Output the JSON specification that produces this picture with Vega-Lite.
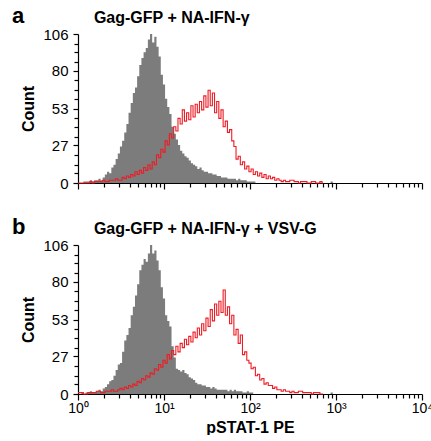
{
  "$schema": "https://vega.github.io/schema/vega-lite/v6.json",
  "padding": {"left": 12, "top": 5, "right": 0, "bottom": 0},
  "spacing": 25,
  "config": {
    "view": {"stroke": null},
    "font": "Liberation Sans",
    "axis": {"grid": false, "labelOverlap": false, "tickCount": 100, "domainColor": "#000000", "tickColor": "#000000", "labelColor": "#000000", "titleColor": "#000000", "domainWidth": 1.2, "tickWidth": 1.2}
  },
  "datasets": {
    "h": [
      {"p":"a","x":1,"g":0,"r":0},{"p":"a","x":1.059,"g":0,"r":0},{"p":"a","x":1.122,"g":0,"r":0},{"p":"a","x":1.189,"g":1,"r":0},
      {"p":"a","x":1.259,"g":1,"r":0},{"p":"a","x":1.334,"g":1,"r":0},{"p":"a","x":1.413,"g":2,"r":1},{"p":"a","x":1.496,"g":1,"r":0},
      {"p":"a","x":1.585,"g":2,"r":1},{"p":"a","x":1.679,"g":2,"r":1},{"p":"a","x":1.778,"g":3,"r":1},{"p":"a","x":1.884,"g":2,"r":1},
      {"p":"a","x":1.995,"g":4,"r":2},{"p":"a","x":2.113,"g":6,"r":1},{"p":"a","x":2.239,"g":8,"r":1},{"p":"a","x":2.371,"g":7,"r":2},
      {"p":"a","x":2.512,"g":11,"r":2},{"p":"a","x":2.661,"g":13,"r":2},{"p":"a","x":2.818,"g":17,"r":3},{"p":"a","x":2.985,"g":21,"r":2},
      {"p":"a","x":3.162,"g":26,"r":2},{"p":"a","x":3.35,"g":30,"r":4},{"p":"a","x":3.548,"g":36,"r":3},{"p":"a","x":3.758,"g":42,"r":5},
      {"p":"a","x":3.981,"g":50,"r":4},{"p":"a","x":4.217,"g":57,"r":6},{"p":"a","x":4.467,"g":64,"r":5},{"p":"a","x":4.732,"g":68,"r":8},
      {"p":"a","x":5.012,"g":76,"r":6},{"p":"a","x":5.309,"g":84,"r":9},{"p":"a","x":5.623,"g":89,"r":7},{"p":"a","x":5.957,"g":93,"r":11},
      {"p":"a","x":6.31,"g":96,"r":9},{"p":"a","x":6.683,"g":102,"r":13},{"p":"a","x":7.079,"g":106,"r":10},{"p":"a","x":7.499,"g":100,"r":15},
      {"p":"a","x":7.943,"g":104,"r":13},{"p":"a","x":8.414,"g":97,"r":20},{"p":"a","x":8.913,"g":90,"r":18},{"p":"a","x":9.441,"g":77,"r":24},
      {"p":"a","x":10,"g":70,"r":22},{"p":"a","x":10.59,"g":60,"r":30},{"p":"a","x":11.22,"g":54,"r":27},{"p":"a","x":11.89,"g":49,"r":35},
      {"p":"a","x":12.59,"g":40,"r":32},{"p":"a","x":13.34,"g":35,"r":40},{"p":"a","x":14.13,"g":31,"r":37},{"p":"a","x":14.96,"g":27,"r":46},
      {"p":"a","x":15.85,"g":23,"r":42},{"p":"a","x":16.79,"g":21,"r":52},{"p":"a","x":17.78,"g":19,"r":44},{"p":"a","x":18.84,"g":18,"r":50},
      {"p":"a","x":19.95,"g":16,"r":45},{"p":"a","x":21.13,"g":14,"r":55},{"p":"a","x":22.39,"g":13,"r":47},{"p":"a","x":23.71,"g":12,"r":56},
      {"p":"a","x":25.12,"g":10,"r":50},{"p":"a","x":26.61,"g":11,"r":58},{"p":"a","x":28.18,"g":9,"r":52},{"p":"a","x":29.85,"g":8,"r":62},
      {"p":"a","x":31.62,"g":8,"r":54},{"p":"a","x":33.5,"g":7,"r":66},{"p":"a","x":35.48,"g":7,"r":55},{"p":"a","x":37.58,"g":6,"r":64},
      {"p":"a","x":39.81,"g":6,"r":50},{"p":"a","x":42.17,"g":5,"r":58},{"p":"a","x":44.67,"g":5,"r":46},{"p":"a","x":47.32,"g":4,"r":52},
      {"p":"a","x":50.12,"g":4,"r":40},{"p":"a","x":53.09,"g":4,"r":44},{"p":"a","x":56.23,"g":3,"r":36},{"p":"a","x":59.57,"g":3,"r":38},
      {"p":"a","x":63.1,"g":3,"r":30},{"p":"a","x":66.83,"g":3,"r":26},{"p":"a","x":70.79,"g":2,"r":17},{"p":"a","x":74.99,"g":3,"r":19},
      {"p":"a","x":79.43,"g":2,"r":13},{"p":"a","x":84.14,"g":2,"r":15},{"p":"a","x":89.13,"g":2,"r":10},{"p":"a","x":94.41,"g":1,"r":12},
      {"p":"a","x":100,"g":1,"r":8},{"p":"a","x":105.9,"g":1,"r":10},{"p":"a","x":112.2,"g":1,"r":6},{"p":"a","x":118.9,"g":0,"r":8},
      {"p":"a","x":125.9,"g":0,"r":5},{"p":"a","x":133.4,"g":0,"r":7},{"p":"a","x":141.3,"g":0,"r":4},{"p":"a","x":149.6,"g":0,"r":6},
      {"p":"a","x":158.5,"g":0,"r":3},{"p":"a","x":167.9,"g":0,"r":5},{"p":"a","x":177.8,"g":0,"r":3},{"p":"a","x":188.4,"g":0,"r":4},
      {"p":"a","x":199.5,"g":0,"r":2},{"p":"a","x":211.3,"g":0,"r":3},{"p":"a","x":223.9,"g":0,"r":2},{"p":"a","x":237.1,"g":0,"r":1},
      {"p":"a","x":251.2,"g":0,"r":2},{"p":"a","x":266.1,"g":0,"r":1},{"p":"a","x":281.8,"g":0,"r":1},{"p":"a","x":298.5,"g":0,"r":2},
      {"p":"a","x":316.2,"g":0,"r":2},{"p":"a","x":335,"g":0,"r":1},{"p":"a","x":354.8,"g":0,"r":1},{"p":"a","x":375.8,"g":0,"r":0},
      {"p":"a","x":398.1,"g":0,"r":1},{"p":"a","x":421.7,"g":0,"r":1},{"p":"a","x":446.7,"g":0,"r":1},{"p":"a","x":473.2,"g":0,"r":0},
      {"p":"a","x":501.2,"g":0,"r":0},{"p":"a","x":530.9,"g":0,"r":1},{"p":"a","x":562.3,"g":0,"r":1},{"p":"a","x":595.7,"g":0,"r":0},
      {"p":"a","x":631,"g":0,"r":0},{"p":"a","x":668.3,"g":0,"r":1},{"p":"a","x":707.9,"g":0,"r":0},
      {"p":"a","x":841.4,"g":0},{"p":"a","x":891.3,"g":1},{"p":"a","x":944.1,"g":0},

      {"p":"b","x":1,"g":0,"r":1},{"p":"b","x":1.059,"g":0,"r":1},{"p":"b","x":1.122,"g":1,"r":1},{"p":"b","x":1.189,"g":0,"r":0},
      {"p":"b","x":1.259,"g":1,"r":0},{"p":"b","x":1.334,"g":1,"r":1},{"p":"b","x":1.413,"g":2,"r":1},{"p":"b","x":1.496,"g":1,"r":1},
      {"p":"b","x":1.585,"g":1,"r":1},{"p":"b","x":1.679,"g":2,"r":2},{"p":"b","x":1.778,"g":3,"r":2},{"p":"b","x":1.884,"g":2,"r":1},
      {"p":"b","x":1.995,"g":4,"r":1},{"p":"b","x":2.113,"g":5,"r":2},{"p":"b","x":2.239,"g":7,"r":2},{"p":"b","x":2.371,"g":9,"r":2},
      {"p":"b","x":2.512,"g":10,"r":3},{"p":"b","x":2.661,"g":13,"r":2},{"p":"b","x":2.818,"g":17,"r":2},{"p":"b","x":2.985,"g":21,"r":3},
      {"p":"b","x":3.162,"g":22,"r":4},{"p":"b","x":3.35,"g":30,"r":3},{"p":"b","x":3.548,"g":38,"r":5},{"p":"b","x":3.758,"g":42,"r":4},
      {"p":"b","x":3.981,"g":47,"r":6},{"p":"b","x":4.217,"g":56,"r":5},{"p":"b","x":4.467,"g":62,"r":7},{"p":"b","x":4.732,"g":70,"r":6},
      {"p":"b","x":5.012,"g":78,"r":9},{"p":"b","x":5.309,"g":88,"r":8},{"p":"b","x":5.623,"g":92,"r":11},{"p":"b","x":5.957,"g":96,"r":10},
      {"p":"b","x":6.31,"g":94,"r":13},{"p":"b","x":6.683,"g":100,"r":12},{"p":"b","x":7.079,"g":106,"r":15},{"p":"b","x":7.499,"g":100,"r":14},
      {"p":"b","x":7.943,"g":102,"r":18},{"p":"b","x":8.414,"g":95,"r":17},{"p":"b","x":8.913,"g":88,"r":21},{"p":"b","x":9.441,"g":76,"r":19},
      {"p":"b","x":10,"g":68,"r":24},{"p":"b","x":10.59,"g":56,"r":22},{"p":"b","x":11.22,"g":52,"r":28},{"p":"b","x":11.89,"g":48,"r":25},
      {"p":"b","x":12.59,"g":34,"r":31},{"p":"b","x":13.34,"g":26,"r":28},{"p":"b","x":14.13,"g":18,"r":34},{"p":"b","x":14.96,"g":17,"r":30},
      {"p":"b","x":15.85,"g":16,"r":36},{"p":"b","x":16.79,"g":17,"r":33},{"p":"b","x":17.78,"g":15,"r":39},{"p":"b","x":18.84,"g":14,"r":35},
      {"p":"b","x":19.95,"g":12,"r":41},{"p":"b","x":21.13,"g":11,"r":37},{"p":"b","x":22.39,"g":10,"r":44},{"p":"b","x":23.71,"g":8,"r":40},
      {"p":"b","x":25.12,"g":7,"r":47},{"p":"b","x":26.61,"g":7,"r":42},{"p":"b","x":28.18,"g":6,"r":50},{"p":"b","x":29.85,"g":6,"r":45},
      {"p":"b","x":31.62,"g":5,"r":54},{"p":"b","x":33.5,"g":5,"r":48},{"p":"b","x":35.48,"g":4,"r":60},{"p":"b","x":37.58,"g":5,"r":52},
      {"p":"b","x":39.81,"g":4,"r":64},{"p":"b","x":42.17,"g":3,"r":56},{"p":"b","x":44.67,"g":3,"r":66},{"p":"b","x":47.32,"g":3,"r":58},
      {"p":"b","x":50.12,"g":3,"r":74},{"p":"b","x":53.09,"g":3,"r":56},{"p":"b","x":56.23,"g":2,"r":62},{"p":"b","x":59.57,"g":3,"r":50},
      {"p":"b","x":63.1,"g":2,"r":56},{"p":"b","x":66.83,"g":3,"r":42},{"p":"b","x":70.79,"g":2,"r":46},{"p":"b","x":74.99,"g":2,"r":36},
      {"p":"b","x":79.43,"g":2,"r":42},{"p":"b","x":84.14,"g":1,"r":28},{"p":"b","x":89.13,"g":1,"r":30},{"p":"b","x":94.41,"g":2,"r":24},
      {"p":"b","x":100,"g":1,"r":22},{"p":"b","x":105.9,"g":1,"r":18},{"p":"b","x":112.2,"g":0,"r":19},{"p":"b","x":118.9,"g":0,"r":13},
      {"p":"b","x":125.9,"g":0,"r":14},{"p":"b","x":133.4,"g":0,"r":10},{"p":"b","x":141.3,"g":0,"r":11},{"p":"b","x":149.6,"g":0,"r":7},
      {"p":"b","x":158.5,"g":0,"r":8},{"p":"b","x":167.9,"g":0,"r":6},{"p":"b","x":177.8,"g":0,"r":6},{"p":"b","x":188.4,"g":0,"r":4},
      {"p":"b","x":199.5,"g":0,"r":5},{"p":"b","x":211.3,"g":0,"r":3},{"p":"b","x":223.9,"g":0,"r":3},{"p":"b","x":237.1,"g":0,"r":2},
      {"p":"b","x":251.2,"g":0,"r":3},{"p":"b","x":266.1,"g":0,"r":2},{"p":"b","x":281.8,"g":0,"r":2},{"p":"b","x":298.5,"g":0,"r":1},
      {"p":"b","x":316.2,"g":0,"r":2},{"p":"b","x":335,"g":0,"r":1},{"p":"b","x":354.8,"g":0,"r":1},{"p":"b","x":375.8,"g":0,"r":2},
      {"p":"b","x":398.1,"g":0,"r":2},{"p":"b","x":421.7,"g":0,"r":1},{"p":"b","x":446.7,"g":0,"r":1},{"p":"b","x":473.2,"g":0,"r":1},
      {"p":"b","x":501.2,"g":0,"r":1},{"p":"b","x":530.9,"g":0,"r":0},{"p":"b","x":562.3,"g":0,"r":1},{"p":"b","x":595.7,"g":0,"r":1},
      {"p":"b","x":631,"g":0,"r":1},{"p":"b","x":668.3,"g":0,"r":0},{"p":"b","x":707.9,"g":0,"r":0},
      {"p":"b","x":841.4,"g":0},{"p":"b","x":891.3,"g":1},{"p":"b","x":944.1,"g":0}
    ],
    "labels": [
      {"p":"a","t":"a","x":0.171,"s":22},
      {"p":"a","t":"Gag-GFP + NA-IFN-γ","x":1.53,"s":16},
      {"p":"b","t":"b","x":0.171,"s":22},
      {"p":"b","t":"Gag-GFP + NA-IFN-γ + VSV-G","x":1.53,"s":16}
    ]
  },
  "vconcat": [
    {
      "width": 344,
      "height": 149,
      "layer": [
        {
          "data": {"name": "h"},
          "transform": [{"filter": "datum.p == 'a'"}],
          "mark": {"type": "area", "interpolate": "step", "color": "#7c7c7c"},
          "encoding": {
            "x": {"field": "x", "type": "quantitative", "scale": {"type": "log", "domain": [1, 10000], "nice": false},
              "axis": {"title": null, "labels": false, "labelOverlap": false, "tickCount": 100, "values": [1,2,3,4,5,6,7,8,9,10,20,30,40,50,60,70,80,90,100,200,300,400,500,600,700,800,900,1000,2000,3000,4000,5000,6000,7000,8000,9000,10000],
                "tickSize": {"condition": {"test": "indexof([1,10,100,1000,10000], datum.value) >= 0", "value": 6}, "value": 4}}},
            "y": {"field": "g", "type": "quantitative", "scale": {"domain": [0, 106], "nice": false},
              "axis": {"title": "Count", "titleFontSize": 16, "titleFontWeight": "bold", "titlePadding": 6, "labelPadding": 5, "labelFontSize": 15, "tickCount": 100,
                "values": [0,7,13,20,27,33,40,46,53,60,66,73,80,86,93,99,106],
                "labelExpr": "indexof([0,27,53,80,106], datum.value) >= 0 ? datum.label : ''",
                "labelOverlap": false,
                "tickSize": {"condition": {"test": "indexof([0,27,53,80,106], datum.value) >= 0", "value": 5}, "value": 4}}}
          }
        },
        {
          "data": {"name": "h"},
          "transform": [{"filter": "datum.p == 'a'"}],
          "mark": {"type": "line", "interpolate": "step", "color": "#ee1c24", "strokeWidth": 1.1},
          "encoding": {
            "x": {"field": "x", "type": "quantitative"},
            "y": {"field": "r", "type": "quantitative"}
          }
        },
        {
          "data": {"name": "labels"},
          "transform": [{"filter": "datum.p == 'a'"}],
          "mark": {"type": "text", "fontWeight": "bold", "align": "left", "baseline": "alphabetic", "color": "#000000"},
          "encoding": {
            "text": {"field": "t"},
            "size": {"field": "s", "type": "quantitative", "scale": null},
            "x": {"field": "x", "type": "quantitative"},
            "y": {"datum": 113.5}
          }
        }
      ]
    },
    {
      "width": 344,
      "height": 149,
      "layer": [
        {
          "data": {"name": "h"},
          "transform": [{"filter": "datum.p == 'b'"}],
          "mark": {"type": "area", "interpolate": "step", "color": "#7c7c7c"},
          "encoding": {
            "x": {"field": "x", "type": "quantitative", "scale": {"type": "log", "domain": [1, 10000], "nice": false},
              "axis": {"title": "pSTAT-1 PE", "titleFontSize": 16, "titleFontWeight": "bold", "titlePadding": 4, "labelFontSize": 14, "labelPadding": 1,
                "labelFlush": false, "labelOverlap": false, "tickCount": 100,
                "values": [1,2,3,4,5,6,7,8,9,10,20,30,40,50,60,70,80,90,100,200,300,400,500,600,700,800,900,1000,2000,3000,4000,5000,6000,7000,8000,9000,10000],
                "labelExpr": "datum.value == 1 ? '10⁰' : datum.value == 10 ? '10¹' : datum.value == 100 ? '10²' : datum.value == 1000 ? '10³' : datum.value == 10000 ? '10⁴' : ''",
                "tickSize": {"condition": {"test": "indexof([1,10,100,1000,10000], datum.value) >= 0", "value": 6}, "value": 4}}},
            "y": {"field": "g", "type": "quantitative", "scale": {"domain": [0, 106], "nice": false},
              "axis": {"title": "Count", "titleFontSize": 16, "titleFontWeight": "bold", "titlePadding": 6, "labelPadding": 5, "labelFontSize": 15, "tickCount": 100,
                "values": [0,7,13,20,27,33,40,46,53,60,66,73,80,86,93,99,106],
                "labelExpr": "indexof([0,27,53,80,106], datum.value) >= 0 ? datum.label : ''",
                "labelOverlap": false,
                "tickSize": {"condition": {"test": "indexof([0,27,53,80,106], datum.value) >= 0", "value": 5}, "value": 4}}}
          }
        },
        {
          "data": {"name": "h"},
          "transform": [{"filter": "datum.p == 'b'"}],
          "mark": {"type": "line", "interpolate": "step", "color": "#ee1c24", "strokeWidth": 1.1},
          "encoding": {
            "x": {"field": "x", "type": "quantitative"},
            "y": {"field": "r", "type": "quantitative"}
          }
        },
        {
          "data": {"name": "labels"},
          "transform": [{"filter": "datum.p == 'b'"}],
          "mark": {"type": "text", "fontWeight": "bold", "align": "left", "baseline": "alphabetic", "color": "#000000"},
          "encoding": {
            "text": {"field": "t"},
            "size": {"field": "s", "type": "quantitative", "scale": null},
            "x": {"field": "x", "type": "quantitative"},
            "y": {"datum": 113.5}
          }
        }
      ]
    }
  ]
}
